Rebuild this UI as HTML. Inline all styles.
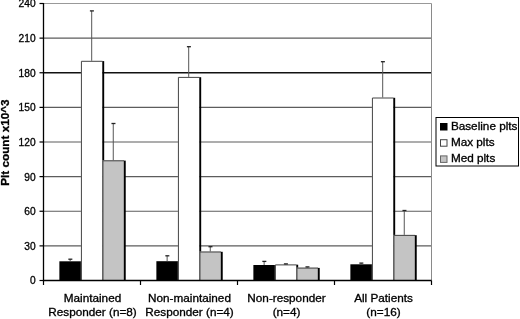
<!DOCTYPE html><html><head><meta charset="utf-8"><style>html,body{margin:0;padding:0;background:#fff;width:520px;height:319px;overflow:hidden}svg{display:block;will-change:transform}text{font-family:"Liberation Sans",sans-serif;stroke:#000;stroke-width:0.3px}</style></head><body>
<svg width="520" height="319" viewBox="0 0 520 319">
<rect width="520" height="319" fill="#fff"/>
<line x1="43.0" y1="245.88" x2="431.5" y2="245.88" stroke="#5c5c5c" stroke-width="1.1"/>
<line x1="43.0" y1="211.25" x2="431.5" y2="211.25" stroke="#5c5c5c" stroke-width="1.1"/>
<line x1="43.0" y1="176.62" x2="431.5" y2="176.62" stroke="#5c5c5c" stroke-width="1.1"/>
<line x1="43.0" y1="142.00" x2="431.5" y2="142.00" stroke="#5c5c5c" stroke-width="1.1"/>
<line x1="43.0" y1="107.38" x2="431.5" y2="107.38" stroke="#5c5c5c" stroke-width="1.1"/>
<line x1="43.0" y1="72.80" x2="431.5" y2="72.80" stroke="#111" stroke-width="1.5"/>
<line x1="43.0" y1="38.13" x2="431.5" y2="38.13" stroke="#5c5c5c" stroke-width="1.1"/>
<line x1="43.0" y1="3.50" x2="431.5" y2="3.50" stroke="#999" stroke-width="1.0"/>
<line x1="431.5" y1="3.5" x2="431.5" y2="280.5" stroke="#8a8a8a" stroke-width="1"/>
<rect x="59.37" y="261.30" width="21.56" height="19.20" fill="#000"/>
<rect x="80.72" y="261.60" width="1.9" height="18.90" fill="#000"/>
<rect x="80.92" y="60.80" width="21.56" height="219.70" fill="#fff"/>
<path d="M81.42,280.50V61.30H102.48" fill="none" stroke="#444" stroke-width="1"/>
<rect x="102.28" y="61.10" width="1.9" height="219.40" fill="#000"/>
<rect x="102.48" y="160.30" width="21.56" height="120.20" fill="#c4c4c4"/>
<path d="M102.98,280.50V160.80H124.03" fill="none" stroke="#444" stroke-width="1"/>
<rect x="123.83" y="160.60" width="1.9" height="119.90" fill="#000"/>
<line x1="70.14" y1="261.30" x2="70.14" y2="259.20" stroke="#555" stroke-width="1"/>
<line x1="68.34" y1="259.20" x2="72.34" y2="259.20" stroke="#222" stroke-width="1.3"/>
<line x1="91.70" y1="60.80" x2="91.70" y2="10.90" stroke="#555" stroke-width="1"/>
<line x1="89.90" y1="10.90" x2="93.90" y2="10.90" stroke="#222" stroke-width="1.3"/>
<line x1="113.26" y1="160.30" x2="113.26" y2="123.50" stroke="#555" stroke-width="1"/>
<line x1="111.46" y1="123.50" x2="115.46" y2="123.50" stroke="#222" stroke-width="1.3"/>
<rect x="156.37" y="261.20" width="21.56" height="19.30" fill="#000"/>
<rect x="177.72" y="261.50" width="1.9" height="19.00" fill="#000"/>
<rect x="177.92" y="76.90" width="21.56" height="203.60" fill="#fff"/>
<path d="M178.42,280.50V77.40H199.48" fill="none" stroke="#444" stroke-width="1"/>
<rect x="199.28" y="77.20" width="1.9" height="203.30" fill="#000"/>
<rect x="199.48" y="251.50" width="21.56" height="29.00" fill="#c4c4c4"/>
<path d="M199.98,280.50V252.00H221.03" fill="none" stroke="#444" stroke-width="1"/>
<rect x="220.83" y="251.80" width="1.9" height="28.70" fill="#000"/>
<line x1="167.14" y1="261.20" x2="167.14" y2="255.80" stroke="#555" stroke-width="1"/>
<line x1="165.34" y1="255.80" x2="169.34" y2="255.80" stroke="#222" stroke-width="1.3"/>
<line x1="188.70" y1="76.90" x2="188.70" y2="46.70" stroke="#555" stroke-width="1"/>
<line x1="186.90" y1="46.70" x2="190.90" y2="46.70" stroke="#222" stroke-width="1.3"/>
<line x1="210.26" y1="251.50" x2="210.26" y2="246.70" stroke="#555" stroke-width="1"/>
<line x1="208.46" y1="246.70" x2="212.46" y2="246.70" stroke="#222" stroke-width="1.3"/>
<rect x="253.37" y="265.00" width="21.56" height="15.50" fill="#000"/>
<rect x="274.72" y="265.30" width="1.9" height="15.20" fill="#000"/>
<rect x="274.92" y="264.40" width="21.56" height="16.10" fill="#fff"/>
<path d="M275.42,280.50V264.90H296.48" fill="none" stroke="#444" stroke-width="1"/>
<rect x="296.28" y="264.70" width="1.9" height="15.80" fill="#000"/>
<rect x="296.48" y="267.60" width="21.56" height="12.90" fill="#c4c4c4"/>
<path d="M296.98,280.50V268.10H318.03" fill="none" stroke="#444" stroke-width="1"/>
<rect x="317.83" y="267.90" width="1.9" height="12.60" fill="#000"/>
<line x1="264.14" y1="265.00" x2="264.14" y2="261.40" stroke="#555" stroke-width="1"/>
<line x1="262.34" y1="261.40" x2="266.34" y2="261.40" stroke="#222" stroke-width="1.3"/>
<line x1="285.70" y1="264.40" x2="285.70" y2="263.90" stroke="#555" stroke-width="1"/>
<line x1="283.90" y1="263.90" x2="287.90" y2="263.90" stroke="#222" stroke-width="1.3"/>
<line x1="307.26" y1="267.60" x2="307.26" y2="266.90" stroke="#555" stroke-width="1"/>
<line x1="305.46" y1="266.90" x2="309.46" y2="266.90" stroke="#222" stroke-width="1.3"/>
<rect x="350.37" y="264.30" width="21.56" height="16.20" fill="#000"/>
<rect x="371.72" y="264.60" width="1.9" height="15.90" fill="#000"/>
<rect x="371.92" y="97.50" width="21.56" height="183.00" fill="#fff"/>
<path d="M372.42,280.50V98.00H393.48" fill="none" stroke="#444" stroke-width="1"/>
<rect x="393.28" y="97.80" width="1.9" height="182.70" fill="#000"/>
<rect x="393.48" y="234.90" width="21.56" height="45.60" fill="#c4c4c4"/>
<path d="M393.98,280.50V235.40H415.03" fill="none" stroke="#444" stroke-width="1"/>
<rect x="414.83" y="235.20" width="1.9" height="45.30" fill="#000"/>
<line x1="361.14" y1="264.30" x2="361.14" y2="263.10" stroke="#555" stroke-width="1"/>
<line x1="359.34" y1="263.10" x2="363.34" y2="263.10" stroke="#222" stroke-width="1.3"/>
<line x1="382.70" y1="97.50" x2="382.70" y2="61.70" stroke="#555" stroke-width="1"/>
<line x1="380.90" y1="61.70" x2="384.90" y2="61.70" stroke="#222" stroke-width="1.3"/>
<line x1="404.26" y1="234.90" x2="404.26" y2="210.50" stroke="#555" stroke-width="1"/>
<line x1="402.46" y1="210.50" x2="406.46" y2="210.50" stroke="#222" stroke-width="1.3"/>
<line x1="43.5" y1="3.0" x2="43.5" y2="281.25" stroke="#000" stroke-width="1.3"/>
<line x1="43.0" y1="280.5" x2="431.5" y2="280.5" stroke="#000" stroke-width="1.5"/>
<line x1="39.5" y1="280.50" x2="43.5" y2="280.50" stroke="#000" stroke-width="1.2"/>
<text x="35.6" y="284.40" font-size="10.2" text-anchor="end" fill="#000">0</text>
<line x1="39.5" y1="245.88" x2="43.5" y2="245.88" stroke="#000" stroke-width="1.2"/>
<text x="35.6" y="249.78" font-size="10.2" text-anchor="end" fill="#000">30</text>
<line x1="39.5" y1="211.25" x2="43.5" y2="211.25" stroke="#000" stroke-width="1.2"/>
<text x="35.6" y="215.15" font-size="10.2" text-anchor="end" fill="#000">60</text>
<line x1="39.5" y1="176.62" x2="43.5" y2="176.62" stroke="#000" stroke-width="1.2"/>
<text x="35.6" y="180.53" font-size="10.2" text-anchor="end" fill="#000">90</text>
<line x1="39.5" y1="142.00" x2="43.5" y2="142.00" stroke="#000" stroke-width="1.2"/>
<text x="35.6" y="145.90" font-size="10.2" text-anchor="end" fill="#000">120</text>
<line x1="39.5" y1="107.38" x2="43.5" y2="107.38" stroke="#000" stroke-width="1.2"/>
<text x="35.6" y="111.28" font-size="10.2" text-anchor="end" fill="#000">150</text>
<line x1="39.5" y1="72.75" x2="43.5" y2="72.75" stroke="#000" stroke-width="1.2"/>
<text x="35.6" y="76.65" font-size="10.2" text-anchor="end" fill="#000">180</text>
<line x1="39.5" y1="38.13" x2="43.5" y2="38.13" stroke="#000" stroke-width="1.2"/>
<text x="35.6" y="42.03" font-size="10.2" text-anchor="end" fill="#000">210</text>
<line x1="39.5" y1="3.50" x2="43.5" y2="3.50" stroke="#000" stroke-width="1.2"/>
<text x="35.6" y="7.40" font-size="10.2" text-anchor="end" fill="#000">240</text>
<line x1="43.50" y1="280.5" x2="43.50" y2="285.0" stroke="#000" stroke-width="1.2"/>
<line x1="140.50" y1="280.5" x2="140.50" y2="285.0" stroke="#000" stroke-width="1.2"/>
<line x1="237.50" y1="280.5" x2="237.50" y2="285.0" stroke="#000" stroke-width="1.2"/>
<line x1="334.50" y1="280.5" x2="334.50" y2="285.0" stroke="#000" stroke-width="1.2"/>
<line x1="431.50" y1="280.5" x2="431.50" y2="285.0" stroke="#000" stroke-width="1.2"/>
<g transform="translate(92.50,0) scale(1.12,1)"><text x="0" y="301.8" font-size="10.5" text-anchor="middle">Maintained</text><text x="0" y="316.5" font-size="10.5" text-anchor="middle">Responder (n=8)</text></g>
<g transform="translate(189.50,0) scale(1.12,1)"><text x="0" y="301.8" font-size="10.5" text-anchor="middle">Non-maintained</text><text x="0" y="316.5" font-size="10.5" text-anchor="middle">Responder (n=4)</text></g>
<g transform="translate(286.50,0) scale(1.12,1)"><text x="0" y="301.8" font-size="10.5" text-anchor="middle">Non-responder</text><text x="0" y="316.5" font-size="10.5" text-anchor="middle">(n=4)</text></g>
<g transform="translate(383.50,0) scale(1.12,1)"><text x="0" y="301.8" font-size="10.5" text-anchor="middle">All Patients</text><text x="0" y="316.5" font-size="10.5" text-anchor="middle">(n=16)</text></g>
<g transform="translate(8.9,142.6) rotate(-90) scale(1.12,1)"><text x="0" y="0" font-size="10.5" font-weight="bold" text-anchor="middle">Plt count x10^3</text></g>
<rect x="436" y="117.5" width="82.5" height="48.5" fill="#fff" stroke="#000" stroke-width="1"/>
<rect x="440.5" y="123.50" width="6.5" height="6.5" fill="#000" stroke="#000" stroke-width="1"/>
<g transform="translate(450.9,130.00) scale(1.12,1)"><text x="0" y="0" font-size="10.5">Baseline plts</text></g>
<rect x="440.5" y="139.70" width="6.5" height="6.5" fill="#fff" stroke="#444" stroke-width="1"/>
<g transform="translate(450.9,146.20) scale(1.12,1)"><text x="0" y="0" font-size="10.5">Max plts</text></g>
<rect x="440.5" y="155.90" width="6.5" height="6.5" fill="#c4c4c4" stroke="#666" stroke-width="1"/>
<g transform="translate(450.9,162.40) scale(1.12,1)"><text x="0" y="0" font-size="10.5">Med plts</text></g>
</svg></body></html>
